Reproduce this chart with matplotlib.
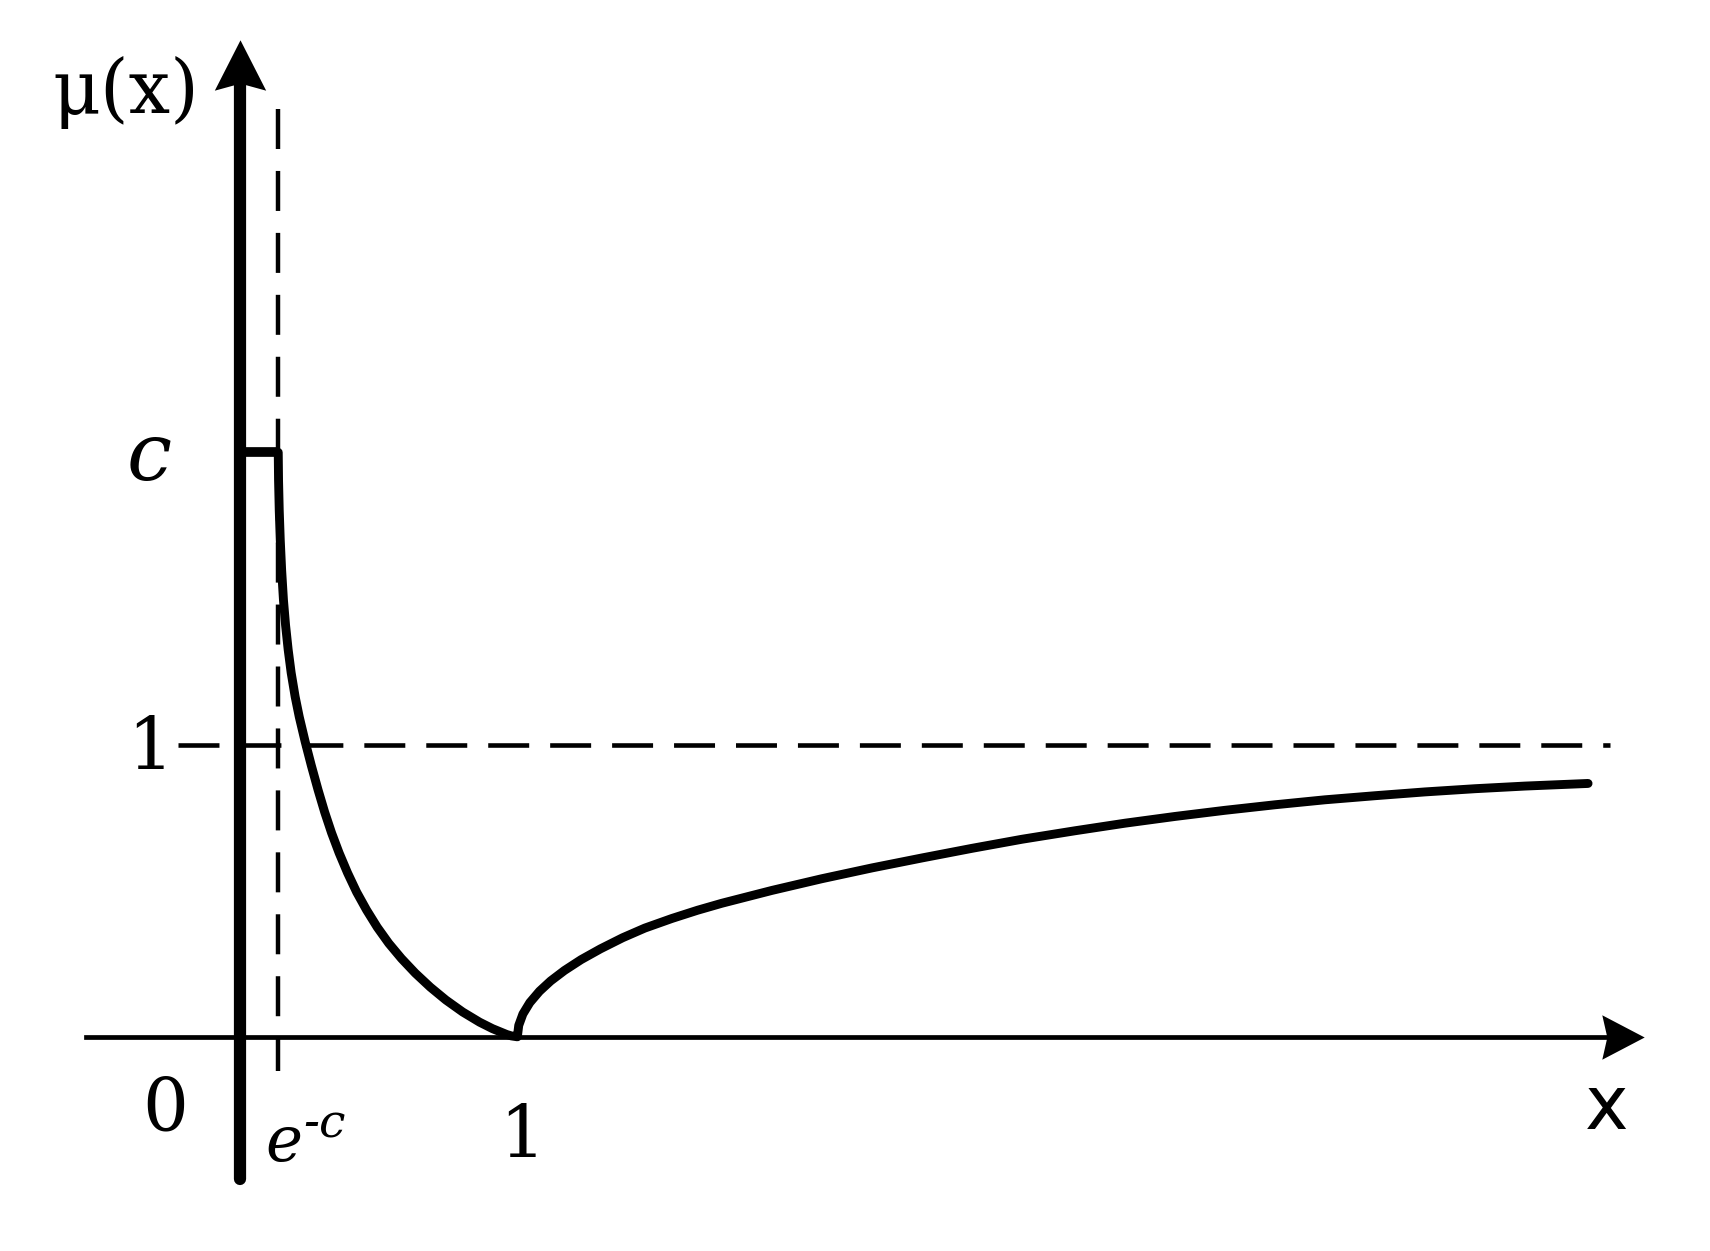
import numpy as np
import matplotlib
matplotlib.use("Agg")
import matplotlib.pyplot as plt
from matplotlib.path import Path

plt.rcParams['font.family'] = ['DejaVu Serif']
plt.rcParams['lines.scale_dashes'] = False

# valeurs
c_val = 2.0
e_c = 0.137

x_plateau = [0.0, e_c]
y_plateau = [c_val, c_val]

# branche décroissante (e^-c < x < 1)
x_dec = [0.1371, 0.1382, 0.1407, 0.1444, 0.1494, 0.1559, 0.1635, 0.1729, 0.1837,
         0.1981, 0.2129, 0.2342, 0.2566, 0.2808, 0.3046, 0.3295, 0.3569, 0.3872,
         0.4201, 0.4558, 0.4944, 0.5359, 0.5817, 0.6315, 0.6857, 0.7420, 0.8026,
         0.8639, 0.9101, 0.9614, 0.9787, 1.0]
y_dec = [2.0, 1.905, 1.802, 1.700, 1.597, 1.495, 1.409, 1.325, 1.246,
         1.164, 1.095, 1.010, 0.928, 0.845, 0.769, 0.698, 0.629, 0.561,
         0.495, 0.434, 0.375, 0.320, 0.268, 0.218, 0.170, 0.126, 0.085,
         0.050, 0.028, 0.008, 0.003, 0.0]

# branche croissante (x > 1)
x_inc = [1.0, 1.005, 1.02, 1.045, 1.08, 1.12, 1.17, 1.23, 1.30, 1.38, 1.46,
         1.558, 1.65, 1.738, 1.919, 2.099, 2.280, 2.460, 2.641, 2.821, 3.012,
         3.193, 3.373, 3.553, 3.734, 3.914, 4.095, 4.275, 4.456, 4.636, 4.864]
y_inc = [0.0, 0.039, 0.078, 0.117, 0.156, 0.191, 0.227, 0.264, 0.301, 0.339, 0.372,
         0.405, 0.433, 0.457, 0.501, 0.541, 0.578, 0.612, 0.645, 0.676, 0.705,
         0.731, 0.754, 0.775, 0.794, 0.811, 0.825, 0.838, 0.849, 0.858, 0.867]

fig = plt.figure(figsize=(17.1, 12.51), dpi=100)
ax = fig.add_axes([0, 0, 1, 1])
ax.set_xlim(-0.867, 5.304)
ax.set_ylim(-0.733, 3.548)
ax.axis('off')

# têtes de flèche (forme seulement)
fleche_haut = Path([(0, 25), (-25.5, -25), (0, -18), (25.5, -25), (0, 25)],
                   [Path.MOVETO, Path.LINETO, Path.LINETO, Path.LINETO, Path.CLOSEPOLY])
fleche_droite = Path([(21, 0), (-21, 22), (-16, 0), (-21, -22), (21, 0)],
                     [Path.MOVETO, Path.LINETO, Path.LINETO, Path.LINETO, Path.CLOSEPOLY])

# axes
ax.plot([0, 0], [-0.487, 3.28], color='black', lw=8.8, solid_capstyle='round')
ax.plot([0], [3.325], marker=fleche_haut, ms=37, color='black', mew=0)
ax.plot([-0.557, 4.96], [0, 0], color='black', lw=3.4)
ax.plot([4.990], [0], marker=fleche_droite, ms=32, color='black', mew=0)

# lignes pointillées
ax.plot([e_c, e_c], [3.175, -0.118], color='black', lw=3.2, dashes=(28.8, 15.8))
ax.plot([-0.225, 4.943], [1, 1], color='black', lw=3.3, dashes=(29.5, 15.1))

# fonction
ax.plot(x_plateau, y_plateau, color='black', lw=7.0, solid_capstyle='butt')
ax.plot(x_dec + x_inc, y_dec + y_inc, color='black', lw=6.4,
        solid_capstyle='round', solid_joinstyle='round')

# textes
ax.text(-0.4125, 3.161, 'μ(x)', fontsize=53, ha='center', va='baseline')
ax.text(-0.330, 1.905, 'c', fontsize=58, style='italic', ha='center', va='baseline')
ax.text(-0.326, 0.913, '1', fontsize=52, ha='center', va='baseline')
ax.text(-0.272, -0.322, '0', fontsize=52, ha='center', va='baseline')
ax.text(1.018, -0.416, '1', fontsize=52, ha='center', va='baseline')
ax.text(0.090, -0.426, 'e', fontsize=45, style='italic', ha='left', va='baseline')
ax.text(0.226, -0.345, '-c', fontsize=34, style='italic', ha='left', va='baseline')
ax.text(4.932, -0.315, 'x', fontsize=53, family='DejaVu Sans', ha='center', va='baseline')

fig.savefig('out.png', dpi=100)
